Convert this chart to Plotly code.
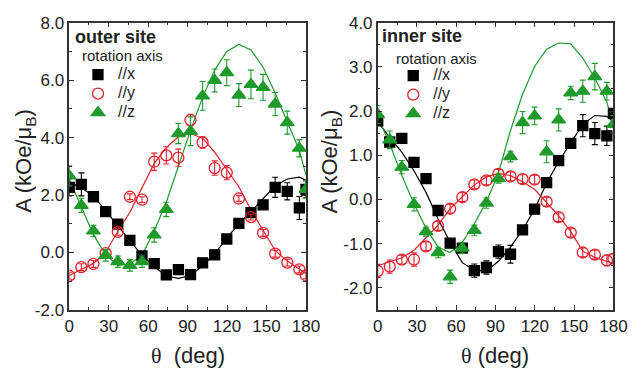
import plotly.graph_objects as go

# ---------------- data ----------------
theta = [0, 9.2, 18.4, 27.7, 36.9, 46.1, 55.3, 64.6, 73.8, 83.0, 92.2,
         101.4, 110.6, 119.8, 129.0, 138.2, 147.4, 156.6, 165.8, 175.0, 180.0]

# outer site (left panel)
outer_x = [2.27, 2.37, 1.94, 1.42, 0.99, 0.42, -0.12, -0.39, -0.78, -0.60, -0.77,
           -0.36, -0.08, 0.47, 1.01, 1.39, 1.66, 2.27, 2.13, 1.55, 2.20]
outer_x_err = [0.3, 0.4, 0.1, 0.1, 0.1, 0.1, 0.1, 0.1, 0.1, 0.1, 0.1,
               0.1, 0.1, 0.1, 0.1, 0.1, 0.1, 0.35, 0.3, 0.4, 0.3]
outer_y = [-0.81, -0.51, -0.40, -0.02, 0.72, 1.94, 1.84, 3.16, 3.38, 3.30, 4.61,
           3.83, 2.94, 2.78, 1.88, 1.23, 0.68, -0.04, -0.35, -0.59, -0.80]
outer_y_err = [0.12, 0.12, 0.12, 0.12, 0.12, 0.1, 0.1, 0.3, 0.3, 0.3, 0.2,
               0.2, 0.25, 0.25, 0.1, 0.1, 0.12, 0.12, 0.12, 0.12, 0.12]
outer_z = [2.67, 1.64, 0.75, -0.10, -0.32, -0.45, -0.32, 0.61, 1.50, 4.14, 4.22,
           5.45, 5.99, 6.26, 5.48, 5.85, 5.75, 5.17, 4.52, 3.63, 2.20]
outer_z_err = [0.35, 0.25, 0.2, 0.2, 0.2, 0.2, 0.2, 0.25, 0.25, 0.35, 0.5,
               0.5, 0.4, 0.45, 0.4, 0.5, 0.45, 0.4, 0.4, 0.3, 0.3]

outer_x_fit = [2.45, 2.25, 1.97, 1.45, 0.95, 0.44, -0.10, -0.50, -0.82, -0.90, -0.80,
               -0.46, -0.05, 0.50, 1.00, 1.42, 1.86, 2.32, 2.56, 2.62, 2.52]
outer_y_fit = [-0.80, -0.60, -0.38, 0.00, 0.74, 1.40, 2.24, 3.10, 3.65, 4.03, 4.14,
               3.98, 3.49, 2.89, 2.29, 1.48, 0.77, 0.07, -0.30, -0.58, -0.73]
outer_z_fit = [2.55, 1.60, 0.62, -0.08, -0.45, -0.40, -0.10, 0.75, 1.75, 3.00, 4.25,
               5.40, 6.35, 7.00, 7.24, 7.05, 6.45, 5.55, 4.55, 3.55, 2.70]

# inner site (right panel)
inner_x = [1.78, 1.30, 1.38, 0.84, 0.47, -0.25, -0.99, -1.10, -1.61, -1.54, -1.18,
           -1.24, -0.69, -0.22, 0.38, 0.88, 1.27, 1.67, 1.49, 1.44, 1.95]
inner_x_err = [0.08, 0.1, 0.1, 0.08, 0.08, 0.08, 0.08, 0.1, 0.15, 0.15, 0.15,
               0.2, 0.08, 0.08, 0.08, 0.08, 0.08, 0.25, 0.25, 0.22, 0.1]
inner_y = [-1.62, -1.52, -1.36, -1.36, -1.06, -0.60, -0.21, 0.05, 0.34, 0.43, 0.58,
           0.52, 0.46, 0.45, -0.05, -0.40, -0.75, -1.20, -1.25, -1.38, -1.34]
inner_y_err = [0.15, 0.15, 0.1, 0.15, 0.1, 0.1, 0.1, 0.1, 0.1, 0.1, 0.1,
               0.1, 0.1, 0.1, 0.1, 0.1, 0.1, 0.1, 0.1, 0.12, 0.1]
inner_z = [1.92, 1.35, 0.73, -0.11, -0.73, -1.20, -1.75, -1.10, -0.70, -0.08, 0.47,
           0.97, 1.74, 1.89, 1.08, 1.80, 2.41, 2.45, 2.78, 2.45, 1.70]
inner_z_err = [0.2, 0.2, 0.15, 0.15, 0.1, 0.12, 0.15, 0.12, 0.12, 0.12, 0.1,
               0.12, 0.25, 0.2, 0.25, 0.25, 0.15, 0.25, 0.3, 0.2, 0.2]

inner_x_fit = [1.76, 1.40, 1.07, 0.65, 0.16, -0.44, -0.97, -1.43, -1.60, -1.62, -1.40,
               -1.08, -0.69, -0.22, 0.37, 0.86, 1.28, 1.70, 1.90, 1.88, 1.75]
inner_y_fit = [-1.50, -1.41, -1.32, -1.15, -0.87, -0.58, -0.21, 0.05, 0.33, 0.51, 0.59,
               0.54, 0.40, 0.23, -0.06, -0.37, -0.73, -1.17, -1.31, -1.41, -1.45]
inner_z_fit = [1.88, 1.25, 0.55, -0.10, -0.65, -1.08, -1.20, -0.97, -0.55, -0.05, 0.60,
               1.56, 2.38, 3.01, 3.40, 3.54, 3.52, 3.20, 2.75, 2.20, 1.68]

series_names = ["//x", "//y", "//z"]
x_ticks = [0, 30, 60, 90, 120, 150, 180]
x_ticklabels = ["0", "30", "60", "90", "120", "150", "180"]
left_yticks = [-2, 0, 2, 4, 6, 8]
left_yticklabels = ["-2.0", "0.0", "2.0", "4.0", "6.0", "8.0"]
right_yticks = [-2, -1, 0, 1, 2, 3, 4]
right_yticklabels = ["-2.0", "-1.0", "0.0", "1.0", "2.0", "3.0", "4.0"]

# ---------------- styles ----------------
BLACK = "#000000"
RED = "#e3202b"
GREEN = "#1f9a2b"
TXT = "#222222"
FONT = "Liberation Sans, Arial, sans-serif"

styles = [
    dict(color=BLACK, symbol="square", size=10),
    dict(color=RED, symbol="circle-open", size=11),
    dict(color=GREEN, symbol="triangle-up", size=12),
]

fig = go.Figure()

panels = [
    ("x", "y", "legend", [(outer_x, outer_x_err, outer_x_fit),
                          (outer_y, outer_y_err, outer_y_fit),
                          (outer_z, outer_z_err, outer_z_fit)]),
    ("x2", "y2", "legend2", [(inner_x, inner_x_err, inner_x_fit),
                             (inner_y, inner_y_err, inner_y_fit),
                             (inner_z, inner_z_err, inner_z_fit)]),
]

for xa, ya, lg, sets in panels:
    for (vals, err, fit), st in zip(sets, styles):
        fig.add_trace(go.Scatter(x=theta, y=fit, mode="lines", xaxis=xa, yaxis=ya,
                                 line=dict(color=st["color"], width=1.2),
                                 showlegend=False, hoverinfo="skip"))
    for (vals, err, fit), st in zip(sets, styles):
        fig.add_trace(go.Scatter(
            x=theta, y=vals, mode="markers", xaxis=xa, yaxis=ya,
            marker=dict(symbol=st["symbol"], size=st["size"], color=st["color"],
                        line=dict(color=st["color"], width=1.3)),
            error_y=dict(type="data", array=err, visible=True, color=st["color"],
                         thickness=1.1, width=3),
            showlegend=False))
    for name, st in zip(series_names, styles):
        fig.add_trace(go.Scatter(
            x=[None], y=[None], mode="markers", xaxis=xa, yaxis=ya,
            name='<span style="font-size:16px">' + name + '</span>',
            marker=dict(symbol=st["symbol"], size=st["size"], color=st["color"],
                        line=dict(color=st["color"], width=1.3)),
            legend=lg, showlegend=True))

# The page body keeps its default 8 px margin, so the figure is sized to make
# the whole page exactly 641 x 388; positions below are in figure pixels.
W, H = 633, 372


def px(v):
    return v / W


def py(v):
    return 1 - v / H


xl = [px(58), px(302)]
xr = [px(376), px(619)]
yd = [py(308.7), py(6)]

axis_common = dict(
    showgrid=False, zeroline=False, showline=True, linecolor="#333333", linewidth=1.5,
    mirror="allticks", ticks="inside", ticklen=5, tickwidth=1.2, tickcolor="#333333",
    tickfont=dict(family=FONT, size=17, color=TXT), ticklabeloverflow="allow",
)

fig.update_layout(
    width=W, height=H, margin=dict(l=0, r=0, t=0, b=0),
    paper_bgcolor="white", plot_bgcolor="white",
    font=dict(family=FONT, color=TXT),
    xaxis=dict(domain=xl, range=[0, 180], tickvals=x_ticks, ticktext=x_ticklabels,
               minor=dict(ticks="inside", ticklen=3, dtick=15, tickcolor="#333333"),
               anchor="y", **axis_common),
    yaxis=dict(domain=yd, range=[-2, 8], tickvals=left_yticks, ticktext=left_yticklabels,
               minor=dict(ticks="inside", ticklen=3, dtick=1, tickcolor="#333333"),
               anchor="x", **axis_common),
    xaxis2=dict(domain=xr, range=[0, 180], tickvals=x_ticks, ticktext=x_ticklabels,
                minor=dict(ticks="inside", ticklen=3, dtick=15, tickcolor="#333333"),
                anchor="y2", **axis_common),
    yaxis2=dict(domain=yd, range=[-2.5, 4.0], tickvals=right_yticks, ticktext=right_yticklabels,
                minor=dict(ticks="inside", ticklen=3, dtick=0.5, tickcolor="#333333"),
                anchor="x2", **axis_common),
    legend=dict(x=px(67), y=py(45.5), xanchor="left", yanchor="top",
                bgcolor="rgba(0,0,0,0)", font=dict(family=FONT, size=12, color=TXT),
                tracegroupgap=0, itemwidth=30),
    legend2=dict(x=px(392), y=py(46.5), xanchor="left", yanchor="top",
                 bgcolor="rgba(0,0,0,0)", font=dict(family=FONT, size=12, color=TXT),
                 tracegroupgap=0, itemwidth=30),
)

ann = []
ann.append(dict(text="<b>outer site</b>", x=px(62), y=py(21), xref="paper", yref="paper",
                xanchor="left", yanchor="middle", showarrow=False,
                font=dict(family=FONT, size=18, color=TXT)))
ann.append(dict(text="rotation axis", x=px(69), y=py(41), xref="paper", yref="paper",
                xanchor="left", yanchor="middle", showarrow=False,
                font=dict(family=FONT, size=15, color=TXT)))
ann.append(dict(text="<b>inner site</b>", x=px(378), y=py(20), xref="paper", yref="paper",
                xanchor="left", yanchor="middle", showarrow=False,
                font=dict(family=FONT, size=18, color=TXT)))
ann.append(dict(text="rotation axis", x=px(393), y=py(44), xref="paper", yref="paper",
                xanchor="left", yanchor="middle", showarrow=False,
                font=dict(family=FONT, size=15, color=TXT)))
ytitle = "A (kOe/μ<sub>B</sub>)"
ann.append(dict(text=ytitle, x=px(13), y=py(152), xref="paper", yref="paper",
                xanchor="center", yanchor="middle", textangle=-90, showarrow=False,
                font=dict(family=FONT, size=22, color=TXT)))
ann.append(dict(text=ytitle, x=px(328), y=py(152), xref="paper", yref="paper",
                xanchor="center", yanchor="middle", textangle=-90, showarrow=False,
                font=dict(family=FONT, size=22, color=TXT)))
theta_sym = '<span style="font-family:Liberation Serif">θ</span>'
ann.append(dict(text=theta_sym + "  (deg)", x=px(180), y=py(357), xref="paper", yref="paper",
                xanchor="center", yanchor="middle", showarrow=False,
                font=dict(family=FONT, size=22, color=TXT)))
ann.append(dict(text=theta_sym + " (deg)", x=px(497), y=py(357), xref="paper", yref="paper",
                xanchor="center", yanchor="middle", showarrow=False,
                font=dict(family=FONT, size=22, color=TXT)))
fig.update_layout(annotations=ann)

fig.write_html("out.html", config={"displayModeBar": False})
